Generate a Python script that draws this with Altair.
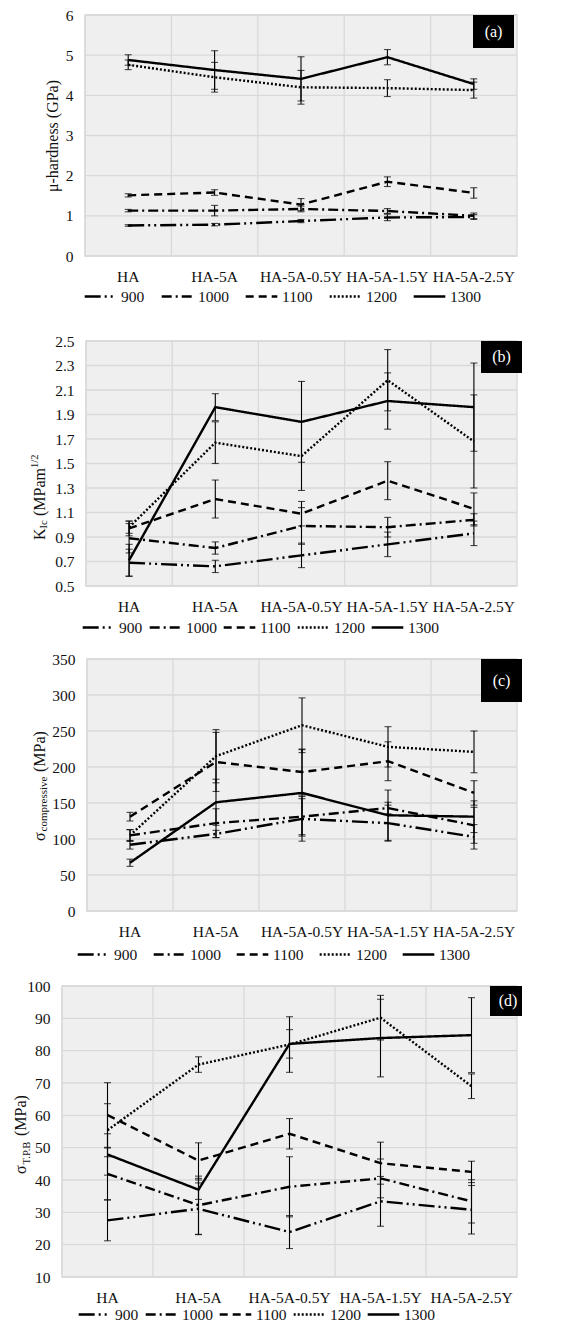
import altair as alt
import pandas as pd

categories = ["HA", "HA-5A", "HA-5A-0.5Y", "HA-5A-1.5Y", "HA-5A-2.5Y"]
temps = ["900", "1000", "1100", "1200", "1300"]

# (a) micro-hardness (GPa)
hard_900 = [0.76, 0.78, 0.87, 0.96, 0.97]
hard_1000 = [1.13, 1.13, 1.17, 1.12, 1.00]
hard_1100 = [1.51, 1.58, 1.28, 1.85, 1.57]
hard_1200 = [4.76, 4.45, 4.20, 4.18, 4.13]
hard_1300 = [4.88, 4.63, 4.41, 4.95, 4.28]
hard_err_900 = [0.02, 0.03, 0.04, 0.08, 0.06]
hard_err_1000 = [0.03, 0.13, 0.07, 0.06, 0.07]
hard_err_1100 = [0.04, 0.07, 0.15, 0.12, 0.13]
hard_err_1200 = [0.12, 0.37, 0.42, 0.21, 0.20]
hard_err_1300 = [0.13, 0.48, 0.55, 0.19, 0.13]

# (b) K_Ic (MPa m^1/2)
kic_900 = [0.69, 0.66, 0.75, 0.84, 0.93]
kic_1000 = [0.89, 0.81, 0.99, 0.98, 1.04]
kic_1100 = [0.97, 1.21, 1.09, 1.36, 1.13]
kic_1200 = [0.98, 1.67, 1.56, 2.18, 1.68]
kic_1300 = [0.71, 1.96, 1.84, 2.01, 1.96]
kic_err_900 = [0.11, 0.05, 0.10, 0.10, 0.10]
kic_err_1000 = [0.12, 0.05, 0.15, 0.08, 0.05]
kic_err_1100 = [0.06, 0.155, 0.10, 0.155, 0.13]
kic_err_1200 = [0.05, 0.17, 0.28, 0.25, 0.38]
kic_err_1300 = [0.13, 0.11, 0.33, 0.23, 0.36]

# (c) compressive strength (MPa)
comp_900 = [92, 107, 128, 122, 103]
comp_1000 = [105, 122, 131, 143, 119]
comp_1100 = [131, 207, 193, 208, 164]
comp_1200 = [105, 215, 258, 228, 221]
comp_1300 = [67, 151, 164, 133, 131]
comp_err_900 = [6, 5, 31, 25, 17]
comp_err_1000 = [8, 20, 25, 8, 25]
comp_err_1100 = [6, 41, 32, 27, 17]
comp_err_1200 = [8, 37, 38, 28, 29]
comp_err_1300 = [5, 32, 60, 35, 22]

# (d) three-point bending strength (MPa)
tpb_900 = [27.5, 31.1, 23.9, 33.4, 30.8]
tpb_1000 = [41.9, 32.2, 37.9, 40.5, 33.4]
tpb_1100 = [60.1, 46.0, 54.3, 45.2, 42.5]
tpb_1200 = [55.4, 75.7, 81.9, 90.2, 69.0]
tpb_1300 = [47.9, 37.0, 82.1, 83.9, 84.8]
tpb_err_900 = [6.3, 8.0, 5.1, 7.7, 7.5]
tpb_err_1000 = [8.0, 9.0, 9.3, 6.0, 6.7]
tpb_err_1100 = [10.0, 5.5, 4.7, 6.5, 3.3]
tpb_err_1200 = [8.2, 2.4, 8.6, 6.9, 3.8]
tpb_err_1300 = [6.4, 3.0, 4.4, 12.0, 11.6]

yticks_a = [0, 1, 2, 3, 4, 5, 6]
yticks_b = [0.5, 0.7, 0.9, 1.1, 1.3, 1.5, 1.7, 1.9, 2.1, 2.3, 2.5]
yticks_c = [0, 50, 100, 150, 200, 250, 300, 350]
yticks_d = [10, 20, 30, 40, 50, 60, 70, 80, 90, 100]

FONT = "'Liberation Serif', 'Times New Roman', 'DejaVu Serif', serif"
TXT = "#111111"
GRID = "#d9d9d9"
HATCH = "#efefef"
dash_range = [[16, 4, 2, 4, 2, 4], [10, 4, 2, 4], [8, 5], [2, 2], [1, 0]]
one = pd.DataFrame({"k": [0]})


def panel(series, errs, ydom, yticks, yfmt, W, H, label, box, leg, titles, bounds):
    rows = []
    for t, vals, es in zip(temps, series, errs):
        for c, v, e in zip(categories, vals, es):
            rows.append({"cat": c, "temp": t, "value": v, "lo": v - e, "hi": v + e})
    df = pd.DataFrame(rows)

    xscale = alt.Scale(type="band", paddingInner=0, paddingOuter=0)
    xaxis = alt.Axis(title=None, labelAngle=0, labelFont=FONT, labelFontSize=15.5,
                     labelColor=TXT, labelPadding=13, ticks=False, tickSize=0,
                     domain=False, grid=False, labelOverlap=False)
    yscale = alt.Scale(domain=ydom, nice=False, zero=False)
    yaxis = alt.Axis(title=None, values=yticks, format=yfmt, labelFont=FONT,
                     labelFontSize=15.5, labelColor=TXT, labelPadding=12,
                     ticks=False, tickSize=0, domain=False, grid=False)

    def X(bp):
        return alt.X("cat:N", sort=categories, scale=xscale, axis=xaxis, bandPosition=bp)

    def Y(f):
        return alt.Y(f, scale=yscale, axis=yaxis)

    bg = alt.Chart(one).mark_rect(fill=HATCH, stroke=GRID, strokeWidth=1.3).encode(
        x=alt.value(0), x2=alt.value(W), y=alt.value(0), y2=alt.value(H))
    ygrid = alt.Chart(pd.DataFrame({"v": yticks})).mark_rule(
        color=GRID, strokeWidth=1.3).encode(y=Y("v:Q"))
    xgrid = alt.Chart(pd.DataFrame({"cat": categories})).mark_rule(
        color=GRID, strokeWidth=1.3).encode(x=X(0))
    err = alt.Chart(df).mark_rule(color="black", strokeWidth=1.1).encode(
        x=X(0.5), y=Y("lo:Q"), y2="hi:Q")
    cap_lo = alt.Chart(df).mark_tick(color="black", thickness=1.1, size=7).encode(
        x=X(0.5), y=Y("lo:Q"))
    cap_hi = alt.Chart(df).mark_tick(color="black", thickness=1.1, size=7).encode(
        x=X(0.5), y=Y("hi:Q"))
    lx, ly, cp = leg
    lines = alt.Chart(df).mark_line(color="black", strokeWidth=2.4).encode(
        x=X(0.5), y=Y("value:Q"),
        strokeDash=alt.StrokeDash(
            "temp:N", sort=temps,
            scale=alt.Scale(domain=temps, range=dash_range),
            legend=alt.Legend(title=None, orient="none", legendX=lx, legendY=ly,
                              direction="horizontal", columns=5,
                              symbolType="stroke", symbolSize=1000,
                              symbolStrokeWidth=2.4, symbolStrokeColor="black",
                              labelFont=FONT, labelFontSize=15.5, labelColor=TXT,
                              labelOffset=3, columnPadding=cp, padding=0)))
    bx1, bx2, by2, tx, ty = box
    boxr = alt.Chart(one).mark_rect(color="black").encode(
        x=alt.value(bx1), x2=alt.value(bx2), y=alt.value(0), y2=alt.value(by2))
    boxt = alt.Chart(one).mark_text(text=label, font=FONT, fontSize=16, color="white",
                                    align="center", baseline="middle", x=tx, y=ty)
    layers = [bg, ygrid, xgrid, err, cap_lo, cap_hi, lines, boxr, boxt]
    for txt, size, x, y, al in titles:
        layers.append(alt.Chart(one).mark_text(
            text=txt, font=FONT, fontSize=size, color=TXT, angle=270,
            align=al, baseline="middle", x=x, y=y))
    L, T, B = bounds
    layers.append(alt.Chart(one).mark_rule(strokeOpacity=0, strokeWidth=0.01).encode(
        x=alt.value(-L), y=alt.value(-T), y2=alt.value(H + B)))
    return alt.layer(*layers).properties(width=W, height=H)


def row(chart, shift):
    spacer = alt.Chart(one).mark_rect(opacity=0).encode(
        x=alt.value(0), x2=alt.value(1), y=alt.value(0), y2=alt.value(1)
    ).properties(width=shift, height=1)
    return alt.hconcat(spacer, chart, spacing=0, bounds="flush").resolve_scale(
        strokeDash="independent", x="independent", y="independent"
    ).resolve_legend(strokeDash="independent")


pa = panel([hard_900, hard_1000, hard_1100, hard_1200, hard_1300],
           [hard_err_900, hard_err_1000, hard_err_1100, hard_err_1200, hard_err_1300],
           [0, 6], yticks_a, "d", 432, 241, "(a)",
           (388, 429, 33, 408.5, 16.5), (-2, 264, 11),
           [("μ-hardness (GPa)", 16, -32, 121, "center")],
           (0, 8, 73))

pb = panel([kic_900, kic_1000, kic_1100, kic_1200, kic_1300],
           [kic_err_900, kic_err_1000, kic_err_1100, kic_err_1200, kic_err_1300],
           [0.5, 2.5], yticks_b, ".1f", 431, 245, "(b)",
           (395, 436, 32, 415.5, 16), (-5, 269, 1),
           [("K", 16, -46, 199, "left"), ("Ic", 10.5, -42, 187.5, "left"),
            ("(MPam", 16, -46, 175, "left"), ("1/2", 10.5, -51, 127, "left")],
           (0, 10, 61))

pc = panel([comp_900, comp_1000, comp_1100, comp_1200, comp_1300],
           [comp_err_900, comp_err_1000, comp_err_1100, comp_err_1200, comp_err_1300],
           [0, 350], yticks_c, "d", 430, 252, "(c)",
           (394, 435, 43, 414.5, 21.5), (-11, 278, 10),
           [("σ", 16, -47, 182, "left"), ("compressive", 11, -43, 172.5, "left"),
            ("(MPa)", 16, -47, 113, "left")],
           (0, 10, 63))

pd_ = panel([tpb_900, tpb_1000, tpb_1100, tpb_1200, tpb_1300],
            [tpb_err_900, tpb_err_1000, tpb_err_1100, tpb_err_1200, tpb_err_1300],
            [10, 100], yticks_d, "d", 455, 291, "(d)",
            (428, 460, 30, 446, 15), (15, 311, 1),
            [("σ", 16, -41, 188, "left"), ("T.P.B", 10.7, -35, 178.5, "left"),
             ("(MPa)", 16, -41, 150, "left")],
            (53, 10, 50))

chart = alt.vconcat(row(pa, 23), row(pb, 24), row(pc, 25), pd_, spacing=0).resolve_scale(
    strokeDash="independent", x="independent", y="independent"
).resolve_legend(strokeDash="independent").properties(
    padding={"left": 0, "top": -2, "right": 0, "bottom": 0}
).configure_view(stroke="transparent")

chart.save("out.html", embed_options={"renderer": "svg", "actions": False})
